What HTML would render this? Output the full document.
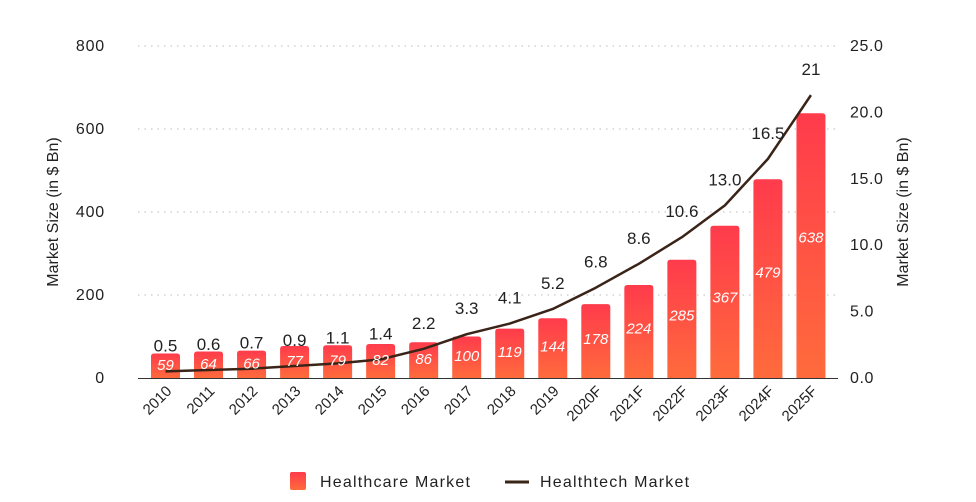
<!DOCTYPE html>
<html><head><meta charset="utf-8"><style>
body{margin:0;background:#fff;}
svg{display:block;font-family:"Liberation Sans",sans-serif;}
</style></head><body>
<svg id="chart" width="976" height="502">
<defs>
<linearGradient id="bg" x1="0" y1="0" x2="0" y2="1">
<stop offset="0" stop-color="#ff3b4c"/><stop offset="1" stop-color="#ff6b3c"/>
</linearGradient>
</defs>
<g id="grid"></g><g id="bars"></g><g id="line"></g><g id="labels"></g>
<text x="58" y="212" transform="rotate(-90 58 212)" text-anchor="middle" font-size="16" fill="#222">Market Size (in $ Bn)</text>
<text x="908" y="212" transform="rotate(-90 908 212)" text-anchor="middle" font-size="16" fill="#222">Market Size (in $ Bn)</text>
<g>
<rect x="290" y="472" width="16" height="18" rx="2" fill="url(#bg)"/>
<text x="320" y="487" font-size="16" letter-spacing="1.2" fill="#222">Healthcare Market</text>
<line x1="505" y1="482" x2="529" y2="482" stroke="#3a2418" stroke-width="3"/>
<text x="540" y="487" font-size="16" letter-spacing="1.2" fill="#222">Healthtech Market</text>
</g>
</svg>
<script>
const categories=["2010","2011","2012","2013","2014","2015","2016","2017","2018","2019","2020F","2021F","2022F","2023F","2024F","2025F"];
const healthcare=[59,64,66,77,79,82,86,100,119,144,178,224,285,367,479,638];
const healthtech=[0.5,0.6,0.7,0.9,1.1,1.4,2.2,3.3,4.1,5.2,6.8,8.6,10.6,13.0,16.5,21.3];
const healthtechLabels=["0.5","0.6","0.7","0.9","1.1","1.4","2.2","3.3","4.1","5.2","6.8","8.6","10.6","13.0","16.5","21"];
const leftTicks=[0,200,400,600,800];
const rightTicks=["0.0","5.0","10.0","15.0","20.0","25.0"];
const NS="http://www.w3.org/2000/svg";
const y0=378,y1=46;
const yL=v=>y0-(v/800)*(y0-y1);
const yR=v=>y0-(v/25)*(y0-y1);
const xC=i=>165.5+i*43.03;
function mk(t,a,p){const e=document.createElementNS(NS,t);for(const k in a)e.setAttribute(k,a[k]);document.getElementById(p).appendChild(e);return e;}
leftTicks.forEach((t,i)=>{
 if(t>0){const g=mk('line',{x1:138,x2:838,y1:yL(t),y2:yL(t),stroke:'#bbb','stroke-dasharray':'1.5 5'},'grid');
 
 }
 const l=mk('text',{x:105,y:yL(t)+5,'text-anchor':'end','font-size':16,'letter-spacing':0.8,fill:'#222'},'grid');l.textContent=t;
 
 
});
rightTicks.forEach((t,i)=>{
 const l=mk('text',{x:850,y:yR(i*5)+5,'font-size':16,'letter-spacing':0.6,fill:'#222'},'grid');l.textContent=t;
 
 
});
const ax=mk('line',{x1:138,x2:838,y1:y0+0.5,y2:y0+0.5,stroke:'#333','stroke-width':1},'grid');


healthcare.forEach((v,i)=>{
 const x=xC(i),w=29,top=yL(v),h=y0-top;
 const b=mk('path',{d:`M${x-w/2},${y0}V${top+3}Q${x-w/2},${top} ${x-w/2+3},${top}H${x+w/2-3}Q${x+w/2},${top} ${x+w/2},${top+3}V${y0}Z`,fill:'url(#bg)'},'bars');
 
 
 const t=mk('text',{x:x,y:y0-Math.max(h*0.53,12)+5,'text-anchor':'middle','font-size':15,'font-style':'italic',fill:'#fff'},'labels');t.textContent=v;
 
 
 const c=mk('text',{x:0,y:0,'text-anchor':'end','font-size':15,fill:'#222',transform:`translate(${x+7},${y0+14}) rotate(-45)`},'labels');c.textContent=categories[i];
 
 
});
const pts=healthtech.map((v,i)=>xC(i)+','+yR(v)).join(' ');
const pl=mk('polyline',{points:pts,fill:'none',stroke:'#3a2418','stroke-width':2.5,'stroke-linejoin':'round'},'line');


healthtech.forEach((v,i)=>{
 const t=mk('text',{x:xC(i),y:yR(v)-20,'text-anchor':'middle','font-size':17,fill:'#222'},'labels');t.textContent=healthtechLabels[i];
 
 
});
</script>
</body></html>
